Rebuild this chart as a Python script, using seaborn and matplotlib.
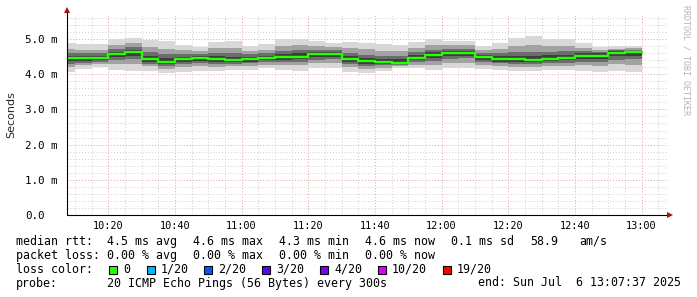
import numpy as np
import pandas as pd
import matplotlib
matplotlib.use("Agg")
import matplotlib.pyplot as plt
import matplotlib.dates as mdates
from matplotlib.patches import Rectangle
import seaborn as sns

# ---- data (ms), one value per 5-minute step starting 10:05 ----
median = [4.45, 4.45, 4.45, 4.56, 4.62, 4.43, 4.36, 4.42, 4.45, 4.43,
          4.41, 4.43, 4.45, 4.48, 4.50, 4.56, 4.57, 4.42, 4.37, 4.34,
          4.33, 4.46, 4.54, 4.59, 4.61, 4.48, 4.43, 4.42, 4.41, 4.44,
          4.46, 4.52, 4.53, 4.60, 4.62]
ping_min = [4.05, 4.14, 4.21, 4.12, 4.09, 4.10, 4.04, 4.07, 4.09, 4.09,
            4.12, 4.12, 4.17, 4.12, 4.10, 4.17, 4.17, 4.07, 4.04, 4.10,
            4.17, 4.17, 4.12, 4.17, 4.17, 4.14, 4.12, 4.10, 4.10, 4.12,
            4.12, 4.10, 4.07, 4.10, 4.07]
ping_max = [4.89, 4.85, 4.85, 4.99, 5.02, 4.97, 4.94, 4.83, 4.78, 4.92,
            4.94, 4.80, 4.85, 4.99, 5.00, 4.94, 4.88, 4.92, 4.90, 4.85,
            4.83, 4.92, 4.99, 4.94, 4.94, 4.81, 4.90, 5.02, 5.09, 5.00,
            5.00, 4.88, 4.78, 4.81, 4.81]
ping_p4 = [4.20, 4.25, 4.29, 4.28, 4.29, 4.22, 4.15, 4.20, 4.22, 4.21,
           4.22, 4.23, 4.27, 4.25, 4.25, 4.31, 4.31, 4.20, 4.16, 4.19,
           4.22, 4.27, 4.27, 4.32, 4.33, 4.26, 4.23, 4.21, 4.21, 4.23,
           4.24, 4.25, 4.23, 4.28, 4.27]
ping_p17 = [4.72, 4.70, 4.70, 4.84, 4.88, 4.78, 4.73, 4.68, 4.66, 4.75,
            4.75, 4.67, 4.70, 4.81, 4.82, 4.80, 4.77, 4.74, 4.71, 4.67,
            4.65, 4.75, 4.83, 4.82, 4.83, 4.69, 4.73, 4.80, 4.84, 4.80,
            4.80, 4.75, 4.69, 4.73, 4.74]
ping_p7 = [4.30, 4.33, 4.36, 4.40, 4.42, 4.30, 4.23, 4.29, 4.31, 4.30,
           4.29, 4.31, 4.34, 4.34, 4.35, 4.41, 4.42, 4.29, 4.24, 4.25,
           4.26, 4.34, 4.38, 4.43, 4.45, 4.35, 4.31, 4.29, 4.29, 4.31,
           4.33, 4.36, 4.35, 4.41, 4.42]
ping_p14 = [4.60, 4.59, 4.59, 4.72, 4.76, 4.62, 4.56, 4.56, 4.57, 4.60,
            4.59, 4.56, 4.59, 4.66, 4.68, 4.70, 4.69, 4.60, 4.55, 4.52,
            4.51, 4.63, 4.70, 4.72, 4.73, 4.60, 4.60, 4.63, 4.64, 4.64,
            4.65, 4.65, 4.63, 4.68, 4.70]
ping_p9 = [4.37, 4.38, 4.40, 4.48, 4.52, 4.36, 4.29, 4.35, 4.38, 4.36,
           4.35, 4.36, 4.39, 4.41, 4.42, 4.48, 4.49, 4.35, 4.30, 4.29,
           4.29, 4.40, 4.46, 4.51, 4.53, 4.41, 4.36, 4.35, 4.34, 4.37,
           4.39, 4.44, 4.44, 4.51, 4.52]
ping_p12 = [4.52, 4.52, 4.52, 4.63, 4.69, 4.52, 4.46, 4.49, 4.51, 4.52,
            4.50, 4.50, 4.52, 4.57, 4.59, 4.63, 4.63, 4.51, 4.46, 4.43,
            4.42, 4.55, 4.62, 4.66, 4.67, 4.54, 4.52, 4.52, 4.53, 4.54,
            4.55, 4.59, 4.59, 4.65, 4.66]

ytick_vals = [0, 1, 2, 3, 4, 5]
ytick_labels = ["0.0", "1.0 m", "2.0 m", "3.0 m", "4.0 m", "5.0 m"]

loss_labels = ["0", "1/20", "2/20", "3/20", "4/20", "10/20", "19/20"]
loss_colors = ["#26ff00", "#00b8ff", "#0059ff", "#5e00ff", "#7e00ff", "#dd00ff", "#ff0000"]

# ---- build ----
W, H = 697, 297
steps = pd.date_range("2025-07-06 10:05", periods=len(median) + 1, freq="5min")
def ext(a):
    return list(a) + [a[-1]]

sns.set_theme(style="white")
plt.rcParams["font.family"] = ["DejaVu Sans Mono"]

fig = plt.figure(figsize=(W / 100, H / 100), dpi=100)
fig.patch.set_facecolor("white")
ax = fig.add_axes([67 / W, 82 / H, 600 / W, 200 / H])
ax.set_facecolor("white")

# smoke
bands = [(ping_min, ping_max, "#d8d8d8"),
         (ping_p4, ping_p17, "#a2a2a2"),
         (ping_p7, ping_p14, "#6c6c6c"),
         (ping_p9, ping_p12, "#3e3e3e")]
for lo, hi, col in bands:
    ax.fill_between(steps, ext(lo), ext(hi), step="post", color=col, lw=0, zorder=2)

df = pd.DataFrame({"t": steps, "median": ext(median)})
sns.lineplot(data=df, x="t", y="median", drawstyle="steps-post", color="#26ff00",
             lw=1.7, estimator=None, ax=ax, zorder=3)

t0 = pd.Timestamp("2025-07-06 10:07:37")
t1 = pd.Timestamp("2025-07-06 13:07:37")
ax.set_xlim(t0, t1)
ax.set_ylim(0, 200 / 35.2)

ax.xaxis.set_major_locator(mdates.MinuteLocator(byminute=[0, 20, 40]))
ax.xaxis.set_minor_locator(mdates.MinuteLocator(byminute=range(0, 60, 5)))
ax.xaxis.set_major_formatter(mdates.DateFormatter("%H:%M"))
ax.set_yticks(ytick_vals)
ax.set_yticklabels(ytick_labels)
ax.set_yticks(np.arange(0, 5.7, 0.2), minor=True)

ax.grid(which="minor", color="#cfcfcf", ls=(0, (1, 2)), lw=0.7, zorder=1)
ax.grid(which="major", color="#e6a0a0", ls=(0, (1, 2)), lw=0.7, zorder=1)
ax.set_axisbelow(True)

for s in ax.spines.values():
    s.set_visible(False)

ax.tick_params(axis="x", which="major", direction="inout", length=4, width=0.7,
               color="#d08080", labelsize=7.4, pad=2.5, labelcolor="#000000")
ax.tick_params(axis="x", which="minor", direction="inout", length=3, width=0.6,
               color="#b0b0b0")
ax.tick_params(axis="y", which="major", direction="inout", length=4, width=0.7,
               color="#000000", labelsize=7.8, pad=28, labelcolor="#000000")
ax.tick_params(axis="y", which="minor", direction="inout", length=2, width=0.6,
               color="#b0b0b0")
for lab in ax.get_yticklabels():
    lab.set_horizontalalignment("left")

ax.set_xlabel("")
ax.set_ylabel("Seconds", family="DejaVu Sans", fontsize=8, labelpad=0)
ax.yaxis.set_label_coords(-(67 - 16) / 600, 0.5)

# axis lines with arrows
ax.plot([0, 1.003], [0, 0], color="#000000", lw=0.8, transform=ax.transAxes,
        clip_on=False, zorder=5)
ax.plot([0, 0], [0, 1.02], color="#000000", lw=0.8, transform=ax.transAxes,
        clip_on=False, zorder=5)
ax.plot([1.005], [0], marker=">", ms=4, color="#a01010", transform=ax.transAxes,
        clip_on=False, zorder=6, mew=0)
ax.plot([0], [1.0225], marker="^", ms=4, color="#a01010", transform=ax.transAxes,
        clip_on=False, zorder=6, mew=0)

# watermark
fig.text(686 / W, 1 - 5 / H, "RRDTOOL / TOBI OETIKER", rotation=270, ha="center",
         va="top", fontsize=6, color="#b4b4b4")

# legend text
fs = 8.4
def ftxt(x, y, s):
    fig.text(x / W, 1 - y / H, s, ha="left", va="center", fontsize=fs, color="#000000")

rows = [
    (241.5, [(16, "median rtt:"), (107, "4.5 ms avg"), (193, "4.6 ms max"),
             (279, "4.3 ms min"), (365, "4.6 ms now"), (451, "0.1 ms sd"),
             (530, "58.9"), (579, "am/s")]),
    (255.3, [(16, "packet loss:"), (107, "0.00 % avg"), (193, "0.00 % max"),
             (279, "0.00 % min"), (365, "0.00 % now")]),
    (269.3, [(16, "loss color:")]),
    (283.0, [(16, "probe:"), (107, "20 ICMP Echo Pings (56 Bytes) every 300s"),
             (478, "end: Sun Jul  6 13:07:37 2025")]),
]
for y, items in rows:
    for x, s in items:
        ftxt(x, y, s)

box_x = [108.5, 146.5, 204, 261.5, 319.5, 377.5, 442.5]
text_x = [123, 160.5, 218, 276, 334, 392, 457]
for bx, tx, lab, col in zip(box_x, text_x, loss_labels, loss_colors):
    fig.add_artist(Rectangle((bx / W, 1 - 273.5 / H), 8 / W, 8 / H,
                             transform=fig.transFigure, facecolor=col,
                             edgecolor="#000000", lw=0.8))
    ftxt(tx, 269.3, lab)

fig.savefig("out.png", dpi=100, facecolor="white")
